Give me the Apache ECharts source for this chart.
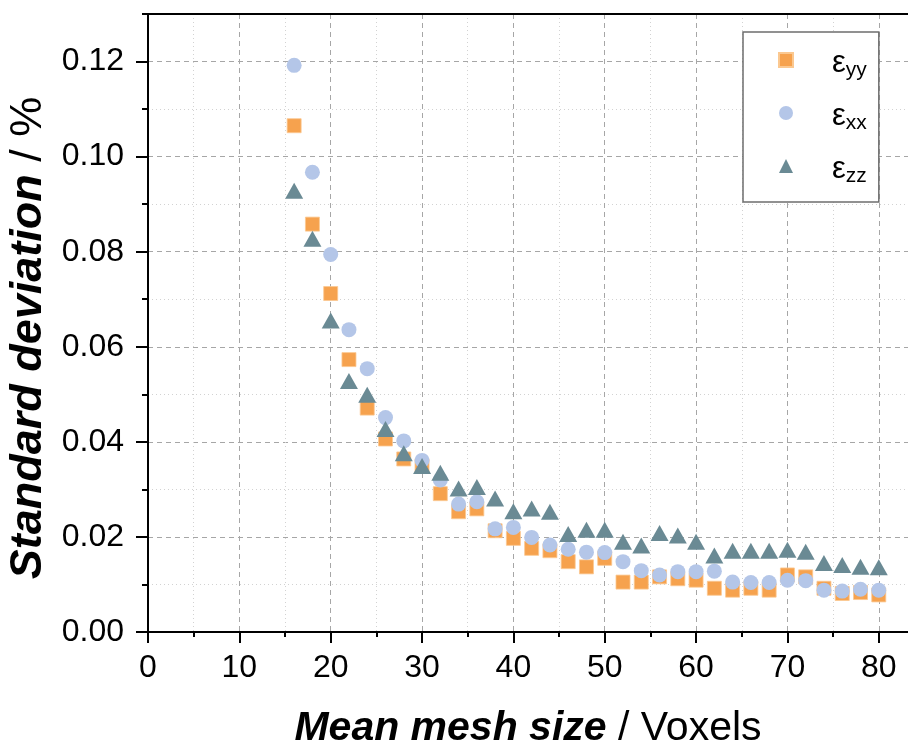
<!DOCTYPE html>
<html>
<head>
<meta charset="utf-8">
<title>Standard deviation vs. mean mesh size</title>
<script src="https://cdn.jsdelivr.net/npm/echarts@6/dist/echarts.min.js"></script>
<style>
  html, body { margin: 0; padding: 0; background: #fff; }
  #chart { width: 908px; height: 746px; }
</style>
</head>
<body>
<div id="chart"></div>
<script>
// Mean mesh size (voxels)
const meshSize = [16, 18, 20, 22, 24, 26, 28, 30, 32, 34, 36, 38, 40, 42, 44, 46, 48,
                  50, 52, 54, 56, 58, 60, 62, 64, 66, 68, 70, 72, 74, 76, 78, 80];

// Standard deviation of each strain component (%)
const epsYY = [0.1065, 0.0858, 0.0712, 0.0573, 0.0471, 0.0406, 0.0364, 0.0350, 0.0291, 0.0253, 0.0259,
               0.0213, 0.0197, 0.0176, 0.0171, 0.0148, 0.0137, 0.0155, 0.0105, 0.0105, 0.0116, 0.0112,
               0.0109, 0.0092, 0.0088, 0.0092, 0.0088, 0.0120, 0.0116, 0.0092, 0.0081, 0.0083, 0.0078];
const epsXX = [0.1192, 0.0967, 0.0794, 0.0636, 0.0554, 0.0451, 0.0402, 0.0361, 0.0320, 0.0269, 0.0274,
               0.0217, 0.0220, 0.0199, 0.0183, 0.0174, 0.0168, 0.0167, 0.0148, 0.0129, 0.0120, 0.0127,
               0.0127, 0.0128, 0.0105, 0.0104, 0.0104, 0.0109, 0.0108, 0.0088, 0.0086, 0.0090, 0.0088];
const epsZZ = [0.0928, 0.0827, 0.0655, 0.0528, 0.0499, 0.0427, 0.0376, 0.0349, 0.0335, 0.0302, 0.0305,
               0.0281, 0.0254, 0.0260, 0.0253, 0.0206, 0.0215, 0.0215, 0.0190, 0.0182, 0.0208, 0.0203,
               0.0190, 0.0161, 0.0171, 0.0171, 0.0171, 0.0173, 0.0169, 0.0145, 0.0141, 0.0137, 0.0136];

// Tick positions
const xMajorTicks = [0, 10, 20, 30, 40, 50, 60, 70, 80];
const xMinorTicks = [5, 15, 25, 35, 45, 55, 65, 75];
const yMajorTicks = [0, 0.02, 0.04, 0.06, 0.08, 0.10, 0.12];
const yMinorTicks = [0.01, 0.03, 0.05, 0.07, 0.09, 0.11, 0.13];

const FONT = '"Liberation Sans", Arial, Helvetica, sans-serif';
const X_MAX = 83.2;
const Y_MAX = 0.13;

const legendText = { 'εyy': 'yy', 'εxx': 'xx', 'εzz': 'zz' };

const toPairs = ys => meshSize.map((x, i) => [x, ys[i]]);

const chart = echarts.init(document.getElementById('chart'), null, { renderer: 'canvas' });

const axisBlack = { show: true, onZero: false, lineStyle: { color: '#000', width: 2 } };
const majorSplit = { show: true, lineStyle: { color: '#a6a6a6', width: 1, type: [5, 4] } };
const minorSplit = { show: true, lineStyle: { color: '#d2d2d2', width: 1, type: [1, 3] } };

chart.setOption({
  animation: false,
  backgroundColor: '#fff',
  grid: { left: 148, right: 0, top: 14, bottom: 114, containLabel: false, outerBoundsMode: 'none' },
  xAxis: [
    {
      type: 'value', gridIndex: 0, position: 'bottom', min: 0, max: X_MAX,
      axisLine: axisBlack,
      axisTick: { show: true, inside: false, length: 11, customValues: xMajorTicks,
                  lineStyle: { color: '#000', width: 2 } },
      axisLabel: { show: true, customValues: xMajorTicks, margin: 20, color: '#000',
                   fontSize: 32, fontFamily: FONT },
      splitLine: majorSplit,
      name: '{b|Mean mesh size}{r| / Voxels}',
      nameLocation: 'middle', nameGap: 76,
      nameTextStyle: {
        fontSize: 41, fontFamily: FONT, color: '#000',
        rich: {
          b: { fontSize: 41, fontFamily: FONT, fontWeight: 'bold', fontStyle: 'italic', color: '#000' },
          r: { fontSize: 41, fontFamily: FONT, color: '#000' }
        }
      }
    },
    {
      type: 'value', gridIndex: 0, position: 'bottom', min: 0, max: X_MAX,
      axisLine: { show: false, onZero: false },
      axisTick: { show: true, inside: false, length: 5, customValues: xMinorTicks,
                  lineStyle: { color: '#000', width: 2 } },
      axisLabel: { show: false },
      splitLine: minorSplit
    },
    {
      type: 'value', gridIndex: 0, position: 'top', min: 0, max: X_MAX,
      axisLine: axisBlack,
      axisTick: { show: false },
      axisLabel: { show: false },
      splitLine: { show: false }
    }
  ],
  yAxis: [
    {
      type: 'value', gridIndex: 0, position: 'left', min: 0, max: Y_MAX,
      axisLine: axisBlack,
      axisTick: { show: true, inside: false, length: 12, customValues: yMajorTicks,
                  lineStyle: { color: '#000', width: 2 } },
      axisLabel: { show: true, customValues: yMajorTicks, margin: 24, color: '#000',
                   fontSize: 32, fontFamily: FONT, formatter: v => v.toFixed(2) },
      splitLine: majorSplit,
      name: '{b|Standard deviation}{r| / %}',
      nameLocation: 'middle', nameGap: 95,
      nameTextStyle: {
        fontSize: 45, fontFamily: FONT, color: '#000',
        padding: [0, 30, 0, 0],
        rich: {
          b: { fontSize: 45, fontFamily: FONT, fontWeight: 'bold', fontStyle: 'italic', color: '#000' },
          r: { fontSize: 45, fontFamily: FONT, color: '#000' }
        }
      }
    },
    {
      type: 'value', gridIndex: 0, position: 'left', min: 0, max: Y_MAX,
      axisLine: { show: false, onZero: false },
      axisTick: { show: true, inside: false, length: 6, customValues: yMinorTicks,
                  lineStyle: { color: '#000', width: 2 } },
      axisLabel: { show: false },
      splitLine: minorSplit
    }
  ],
  legend: {
    orient: 'vertical',
    left: 743, top: 32,
    padding: [13, 12, 15, 35],
    itemWidth: 14, itemHeight: 14, itemGap: 17,
    borderColor: '#6e6e6e', borderWidth: 1.5, borderRadius: 0,
    backgroundColor: '#fff',
    data: ['εyy', 'εxx', 'εzz'],
    formatter: name => '{e|ε}{s|' + legendText[name] + '}',
    textStyle: {
      color: '#000', fontFamily: FONT,
      rich: {
        e: { fontSize: 31, lineHeight: 30, fontFamily: FONT, color: '#000',
             verticalAlign: 'top', padding: [3, 0, 0, 34] },
        s: { fontSize: 21, lineHeight: 20, fontFamily: FONT, color: '#000',
             verticalAlign: 'top', padding: [15, 0, 0, 0] }
      }
    }
  },
  series: [
    {
      name: 'εyy', type: 'scatter', xAxisIndex: 0, yAxisIndex: 0,
      symbol: 'rect', symbolSize: 14,
      itemStyle: { color: '#f6a24e', borderColor: '#fbc890', borderWidth: 0.8, opacity: 1 },
      data: toPairs(epsYY), z: 2
    },
    {
      name: 'εxx', type: 'scatter', xAxisIndex: 0, yAxisIndex: 0,
      symbol: 'circle', symbolSize: 15,
      itemStyle: { color: '#b4c6e8', opacity: 1 },
      data: toPairs(epsXX), z: 3
    },
    {
      name: 'εzz', type: 'scatter', xAxisIndex: 0, yAxisIndex: 0,
      symbol: 'triangle', symbolSize: [18, 16],
      itemStyle: { color: '#6a8a94', opacity: 1 },
      data: toPairs(epsZZ), z: 4
    }
  ]
});
</script>
</body>
</html>
